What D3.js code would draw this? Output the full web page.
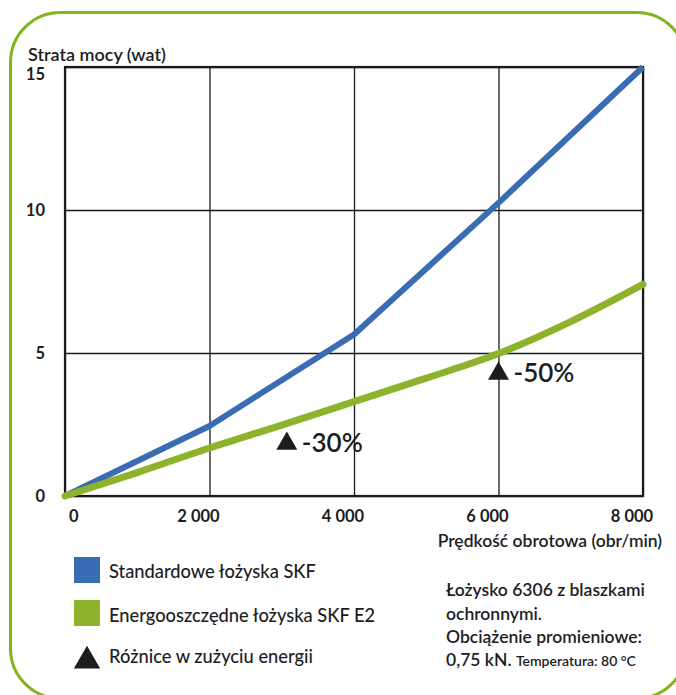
<!DOCTYPE html>
<html lang="pl">
<head>
<meta charset="UTF-8">
<title>Strata mocy</title>
<style>
  body { margin: 0; background: #fff; }
  svg { display: block; font-family: Lato, "Open Sans", sans-serif; }
  .grid line { stroke: #1a1a1a; stroke-width: 1.3px; }
  .grid path { display: none; }
</style>
</head>
<body>
<div id="chart"></div>
<script src="https://d3js.org/d3.v7.min.js"></script>
<script>
const speeds = [0, 2000, 4000, 6000, 8000];
const standardLoss = [0, 2.45, 5.65, 10.25, 15];
const greenSpeeds = [0, 1000, 2000, 3000, 4000, 5000, 6000, 7000, 8000];
const e2Loss = [0, 0.82, 1.68, 2.48, 3.3, 4.12, 4.98, 6.1, 7.4];
const xTicks = [0, 2000, 4000, 6000, 8000];
const yTicks = [0, 5, 10, 15];
const markSpeeds = [3070, 6000];
const markLoss = [1.55, 4.0];
const markLabels = ["-30%", "-50%"];
const legendLabels = ["Standardowe łożyska SKF", "Energooszczędne łożyska SKF E2", "Różnice w zużyciu energii"];

const W = 676, H = 695;
const blue = "#3a6cb4", green = "#8db32d", frameGreen = "#80b51c", ink = "#1d1d1f";

const svg = d3.select("#chart").append("svg")
  .attr("width", W).attr("height", H);

// rounded frame
svg.append("rect")
  .attr("x", 10.5).attr("y", 12.5)
  .attr("width", 676).attr("height", 686)
  .attr("rx", 50).attr("ry", 50)
  .attr("fill", "none").attr("stroke", frameGreen).attr("stroke-width", 3);

const plot = {left: 65, right: 643, top: 67, bottom: 496};

const x = d3.scaleLinear().domain([0, 8000]).range([plot.left, plot.right]);
const y = d3.scaleLinear().domain([0, 15]).range([plot.bottom, plot.top]);

svg.append("g").attr("class", "grid")
  .attr("transform", `translate(0,${plot.bottom})`)
  .call(d3.axisBottom(x).tickValues(xTicks).tickSize(-(plot.bottom - plot.top)).tickFormat(""));
svg.append("g").attr("class", "grid")
  .attr("transform", `translate(${plot.left},0)`)
  .call(d3.axisLeft(y).tickValues(yTicks).tickSize(-(plot.right - plot.left)).tickFormat(""));

svg.append("rect")
  .attr("x", plot.left).attr("y", plot.top)
  .attr("width", plot.right - plot.left).attr("height", plot.bottom - plot.top)
  .attr("fill", "none").attr("stroke", "#1a1a1a").attr("stroke-width", 2.2);

// tick labels
svg.append("g").selectAll("text").data(yTicks).join("text")
  .attr("x", 45)
  .attr("y", d => Math.max(y(d), plot.top + 7))
  .attr("dy", "0.35em")
  .attr("text-anchor", "end")
  .attr("font-size", 16.5).attr("font-weight", 700).attr("fill", ink)
  .text(d => d);

const fmt = d => d3.format(",")(d).replace(",", " ");
svg.append("g").selectAll("text").data(xTicks).join("text")
  .attr("x", d => d === 0 ? x(d) + 4 : x(d) - 11)
  .attr("y", 522)
  .attr("text-anchor", d => d === 0 ? "start" : "middle")
  .attr("font-size", 16.5).attr("font-weight", 700).attr("fill", ink)
  .text(fmt);

svg.append("text")
  .attr("x", 28).attr("y", 61)
  .attr("font-size", 18).attr("font-weight", 600).attr("fill", ink)
  .text("Strata mocy (wat)");

svg.append("text")
  .attr("x", 662).attr("y", 547)
  .attr("text-anchor", "end")
  .attr("font-size", 17.5).attr("font-weight", 600).attr("fill", ink)
  .text("Prędkość obrotowa (obr/min)");

// lines
const line = d3.line().x(d => x(d[0])).y(d => y(d[1]));
svg.append("path")
  .datum(speeds.map((s, i) => [s, standardLoss[i]]))
  .attr("d", line)
  .attr("fill", "none").attr("stroke", blue).attr("stroke-width", 6)
  .attr("stroke-linejoin", "round");
svg.append("path")
  .datum(greenSpeeds.map((s, i) => [s, e2Loss[i]]))
  .attr("d", line.curve(d3.curveMonotoneX))
  .attr("fill", "none").attr("stroke", green).attr("stroke-width", 7)
  .attr("stroke-linecap", "round");

// difference markers
const tri = d3.symbol().type(d3.symbolTriangle).size(190);
const marks = svg.append("g").selectAll("g").data(markSpeeds).join("g")
  .attr("transform", (d, i) => `translate(${x(d)},${y(markLoss[i]) - 9})`);
marks.append("path").attr("d", tri).attr("fill", ink).attr("transform", "translate(0,1)");
marks.append("text")
  .attr("x", 15).attr("y", 0).attr("dy", "0.35em")
  .attr("font-size", 26).attr("font-weight", 600).attr("fill", ink)
  .text((d, i) => markLabels[i]);

// legend
const leg = svg.append("g").attr("transform", "translate(74,557)");
const legY = [0, 43, 90];
leg.append("rect").attr("x", 0).attr("y", legY[0]).attr("width", 26).attr("height", 26).attr("fill", blue);
leg.append("rect").attr("x", 0).attr("y", legY[1]).attr("width", 26).attr("height", 26).attr("fill", green);
leg.append("path").attr("d", d3.symbol().type(d3.symbolTriangle).size(300))
  .attr("transform", `translate(13,${legY[2] + 14})`).attr("fill", ink);
leg.selectAll("text.lab").data(legendLabels).join("text")
  .attr("class", "lab")
  .attr("x", 35)
  .attr("y", (d, i) => [21, 65, 106][i])
  .attr("font-size", 18.3).attr("font-weight", 500).attr("fill", ink)
  .text(d => d);

// note block
const note = svg.append("g").attr("font-weight", 600).attr("fill", ink).attr("font-size", 17.5);
const noteLines = ["Łożysko 6306 z blaszkami", "ochronnymi.", "Obciążenie promieniowe:"];
note.selectAll("text").data(noteLines).join("text")
  .attr("x", 446).attr("y", (d, i) => 596 + i * 23.5)
  .text(d => d);
const last = note.append("text").attr("x", 446).attr("y", 666);
last.append("tspan").text("0,75 kN. ");
last.append("tspan").attr("font-size", 14).text("Temperatura: 80 °C");
</script>
</body>
</html>
